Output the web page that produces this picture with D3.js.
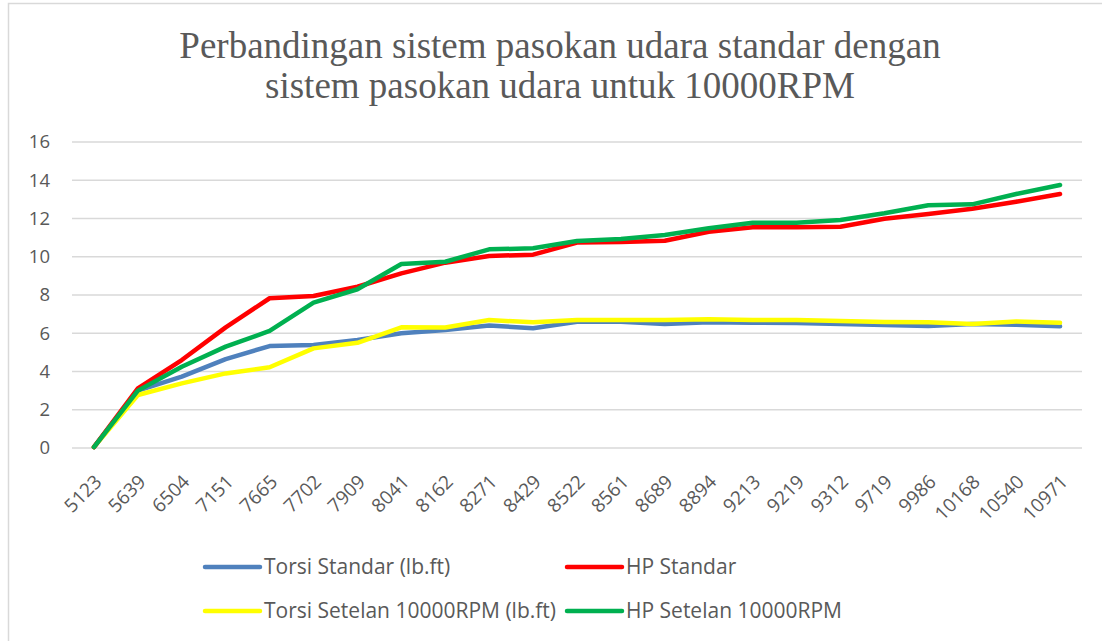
<!DOCTYPE html>
<html>
<head>
<meta charset="utf-8">
<script src="https://cdn.jsdelivr.net/npm/d3@7"></script>
<style>
  body { margin: 0; background: #fff; }
  svg text { fill: #595959; }
</style>
</head>
<body>
<div id="chart"></div>
<script>
const rpm = ["5123", "5639", "6504", "7151", "7665", "7702", "7909", "8041", "8162", "8271", "8429", "8522",
  "8561", "8689", "8894", "9213", "9219", "9312", "9719", "9986", "10168", "10540", "10971"];

const torsiStandar = [0.05, 3.0, 3.73, 4.65, 5.33, 5.39, 5.65, 6.0, 6.17, 6.41, 6.26, 6.6,
  6.6, 6.48, 6.58, 6.55, 6.54, 6.48, 6.43, 6.38, 6.48, 6.45, 6.36];
const hpStandar = [0.05, 3.12, 4.6, 6.31, 7.83, 7.95, 8.43, 9.13, 9.69, 10.04, 10.11, 10.74,
  10.77, 10.84, 11.31, 11.54, 11.54, 11.57, 11.99, 12.24, 12.51, 12.88, 13.28];
const torsiSetelan = [0.05, 2.77, 3.38, 3.9, 4.22, 5.21, 5.5, 6.31, 6.3, 6.69, 6.57, 6.69,
  6.69, 6.69, 6.73, 6.69, 6.69, 6.64, 6.59, 6.57, 6.48, 6.62, 6.55];
const hpSetelan = [0.05, 3.0, 4.25, 5.3, 6.12, 7.6, 8.3, 9.62, 9.74, 10.39, 10.44, 10.82,
  10.93, 11.14, 11.49, 11.78, 11.78, 11.92, 12.27, 12.69, 12.74, 13.28, 13.75];

const yTicks = [0, 2, 4, 6, 8, 10, 12, 14, 16];

// draw order matters: later series sit on top
const series = [
  { name: "Torsi Standar (lb.ft)", values: torsiStandar, color: "#4F81BD" },
  { name: "Torsi Setelan 10000RPM (lb.ft)", values: torsiSetelan, color: "#FFFF00" },
  { name: "HP Standar", values: hpStandar, color: "#FF0000" },
  { name: "HP Setelan 10000RPM", values: hpSetelan, color: "#00B050" }
];
const legendOrder = [0, 2, 1, 3];

const width = 1102;
const height = 641;
const plot = { left: 72, right: 1082, top: 142, bottom: 448 };
const labelFont = "'Open Sans', Lato, sans-serif";

const svg = d3.select("#chart").append("svg")
  .attr("width", width)
  .attr("height", height);

// chart area border (runs off the picture on the right and bottom)
svg.append("rect")
  .attr("x", 8.5)
  .attr("y", 3.5)
  .attr("width", 1200)
  .attr("height", 800)
  .style("fill", "#fff")
  .style("stroke", "#D9D9D9")
  .style("stroke-width", 1.5);

// title
const title = svg.append("text")
  .attr("text-anchor", "middle")
  .style("font-family", "'Liberation Serif', 'Times New Roman', serif")
  .style("font-size", "37px");
title.append("tspan").attr("x", 560).attr("y", 58).text("Perbandingan sistem pasokan udara standar dengan");
title.append("tspan").attr("x", 560).attr("y", 98).text("sistem pasokan udara untuk 10000RPM");

const x = d3.scaleBand().domain(rpm).range([plot.left, plot.right]);
const y = d3.scaleLinear().domain([0, 16]).range([plot.bottom, plot.top]);

// gridlines
svg.append("g").selectAll("line").data(yTicks).enter().append("line")
  .attr("x1", plot.left)
  .attr("x2", plot.right)
  .attr("y1", (d) => y(d))
  .attr("y2", (d) => y(d))
  .style("stroke", "#D9D9D9")
  .style("stroke-width", 1.5);

// y axis labels
const yAxis = svg.append("g")
  .attr("transform", `translate(${plot.left}, 0)`)
  .call(d3.axisLeft(y).tickValues(yTicks).tickSize(0).tickPadding(22));
yAxis.select(".domain").remove();
yAxis.selectAll("text")
  .style("font-family", labelFont)
  .style("font-size", "18.5px")
  .style("fill", "#595959");

// x axis labels, rotated
const xAxis = svg.append("g")
  .attr("transform", `translate(0, ${plot.bottom})`)
  .call(d3.axisBottom(x).tickSize(0).tickPadding(0));
xAxis.select(".domain").remove();
xAxis.selectAll("text")
  .attr("y", 0)
  .attr("dy", 0)
  .attr("text-anchor", "end")
  .attr("transform", "translate(9, 35) rotate(-45)")
  .style("font-family", labelFont)
  .style("font-size", "19px")
  .style("fill", "#595959");

// lines
const line = d3.line()
  .x((d, i) => x(rpm[i]) + x.bandwidth() / 2)
  .y((d) => y(d));

svg.append("g").selectAll("path").data(series).enter().append("path")
  .attr("d", (d) => line(d.values))
  .style("fill", "none")
  .style("stroke", (d) => d.color)
  .style("stroke-width", 4.5)
  .style("stroke-linejoin", "round")
  .style("stroke-linecap", "round");

// legend
const legendPos = [
  { x: 205, y: 567 },
  { x: 567, y: 567 },
  { x: 205, y: 611 },
  { x: 567, y: 611 }
];
const legend = svg.append("g").selectAll("g").data(legendOrder).enter().append("g")
  .attr("transform", (d, i) => `translate(${legendPos[i].x}, ${legendPos[i].y})`);

legend.append("line")
  .attr("x1", 0)
  .attr("x2", 55)
  .style("stroke", (d) => series[d].color)
  .style("stroke-width", 4.5)
  .style("stroke-linecap", "round");

legend.append("text")
  .attr("x", 59)
  .attr("dy", "0.35em")
  .style("font-family", labelFont)
  .style("font-size", "21px")
  .text((d) => series[d].name);
</script>
</body>
</html>
